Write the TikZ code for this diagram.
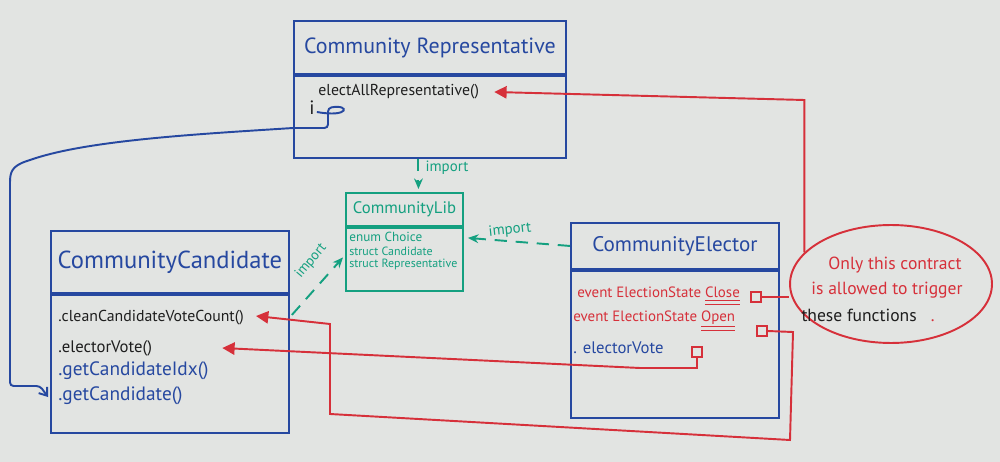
\documentclass[tikz,border=0pt]{standalone}
\usepackage{fontspec}
\setmainfont{PT Sans}
\usetikzlibrary{arrows.meta,shapes.geometric,calc}
\definecolor{wb}{RGB}{226,228,226}
\definecolor{mblue}{RGB}{38,72,160}
\definecolor{mred}{RGB}{214,48,58}
\definecolor{mteal}{RGB}{20,160,128}
\definecolor{mblack}{RGB}{30,30,30}
\tikzset{
  box/.style={draw=#1, line width=1.1pt, inner sep=0pt, anchor=north west, text=#1},
  body/.style={draw=#1, line width=1.1pt, inner sep=0pt, anchor=north},
  ttl/.style={font=\fontsize{#1}{#1}\selectfont},
  item/.style={anchor=west, inner sep=0pt, font=\fontsize{#1}{#1}\selectfont},
  sq/.style={draw=mred, line width=0.9pt, minimum size=0.19cm, inner sep=0pt},
  bluec/.style={draw=mblue, line width=1.1pt, rounded corners=2pt},
  redc/.style={draw=mred, line width=1.1pt},
  tealc/.style={draw=mteal, line width=1.1pt, dash pattern=on 7pt off 5pt, -{Stealth[length=6pt,width=5pt]}},
  lbl/.style={text=mteal, inner sep=0pt, font=\fontsize{8.5}{8.5}\selectfont},
}
\begin{document}
\begin{tikzpicture}[x=0.02cm,y=-0.02cm]
\fill[wb] (0,0) rectangle (1000,462);
\useasboundingbox (0,0) rectangle (1000,462);

% CommunityRepresentative
\node[box=mblue, ttl=12.5, minimum width=5.44cm, minimum height=1.06cm] (repH) at (293,20) {Community Representative};
\node[body=mblue, minimum width=5.44cm, minimum height=1.64cm] (repB) at (repH.south) {};
\node[item=9, text=mblack] (repM) at (318,92) {electAllRepresentative()};
\node[item=11, text=mblack] (repI) at (309,108) {i};

% CommunityCandidate
\node[box=mblue, ttl=14, minimum width=4.76cm, minimum height=1.24cm] (canH) at (50,230) {CommunityCandidate};
\node[body=mblue, minimum width=4.76cm, minimum height=2.76cm] (canB) at (canH.south) {};
\node[item=9, text=mblack] (cc) at (58,318) {.cleanCandidateVoteCount()};
\node[item=9.5, text=mblack] (ev) at (58,348) {.electorVote()};
\node[item=11, text=mblue] (gi) at (58,371) {.getCandidateIdx()};
\node[item=11, text=mblue] (gc) at (58,396) {.getCandidate()};

% CommunityLib
\node[box=mteal, ttl=9.5, minimum width=2.34cm, minimum height=0.66cm] (libH) at (345,192) {CommunityLib};
\node[body=mteal, minimum width=2.34cm, minimum height=1.26cm] (libB) at (libH.south) {};
\node[item=7.5, text=mteal] (l1) at (349,237) {enum Choice};
\node[item=6.8, text=mteal] (l2) at (349,251) {struct Candidate};
\node[item=6.8, text=mteal] (l3) at (349,264) {struct Representative};

% CommunityElector
\node[box=mblue, ttl=12, minimum width=4.16cm, minimum height=0.92cm] (elH) at (570,222) {CommunityElector};
\node[body=mblue, minimum width=4.16cm, minimum height=2.94cm] (elB) at (elH.south) {};
\node[item=8.5, text=mred] (e1) at (577,296) {event ElectionState $\underline{\underline{\mbox{Close}}}$};
\node[item=8.5, text=mred] (e2) at (573,321) {event ElectionState $\underline{\underline{\mbox{Open}}}$};
\node[item=9.5, text=mblue] (e3) at (573,348) {. electorVote};
\node[sq] (clSq) at (756,297) {};
\node[sq] (opSq) at (762,331) {};
\node[sq] (evSq) at (697,352) {};

% note
\node[ellipse, draw=mred, line width=1.1pt, minimum width=4.04cm, minimum height=2.36cm, inner sep=0pt] (note) at (891,284) {};
\node[text=mred, inner sep=0pt, font=\fontsize{10}{10}\selectfont] (n1) at (895,265) {Only this contract};
\node[text=mred, inner sep=0pt, font=\fontsize{10}{10}\selectfont] (n2) at (887,290) {is allowed to trigger};
\node[text=mblack, inner sep=0pt, font=\fontsize{10}{10}\selectfont] (n3) at (868,315) {these functions\hspace{8pt}{\color{mred}.}};

% blue connector
\draw[bluec, -{Straight Barb[length=4pt,width=6pt]}] (repI.east) ++(2,4) .. controls (350,118) and (350,104) .. (328,108) -- (328,128) -- (repB.west |- 0,128) .. controls (200,134) and (90,140) .. (30,160) .. controls (12,166) and (10,172) .. (10,186) -- (10,386) -- (40,386) -- ($(gc.west)+(-10,1)$);

% red connectors
\coordinate (rc1) at (0,100);
\draw[redc, -{Triangle[length=7pt,width=7pt]}] (note.160) -- (note.160 |- rc1) -- ($(repM.east)+(15,0)$);
\draw[redc] (clSq.east) -- (clSq.east -| note.west);
\draw[redc, -{Triangle[length=7pt,width=7pt]}] (opSq.east) -- (793,332) -- (790,440) -- (330,414) -- (330,324) -- ($(cc.east)+(12,-2)$);
\draw[redc, -{Triangle[length=7pt,width=7pt]}] (evSq.south) -- (697,368) -- (640,368) -- ($(ev.east)+(70,0)$);

% teal imports
\coordinate (t1) at ($(libH.north)+(14,-3)$);
\draw[tealc] (t1 |- repB.south) -- (t1);
\node[lbl] (i1) at (447,168) {import};
\draw[tealc] ($(canB.north east)+(2,21)$) -- ($(libB.west)+(-2,-2)$);
\node[lbl, rotate=50, font=\fontsize{8}{8}\selectfont] (i2) at (311,261) {import};
\draw[tealc] (elH.west) -- ($(libB.north east)+(4,11)$);
\node[lbl, rotate=6] (i3) at (510,230) {import};
\end{tikzpicture}
\end{document}
